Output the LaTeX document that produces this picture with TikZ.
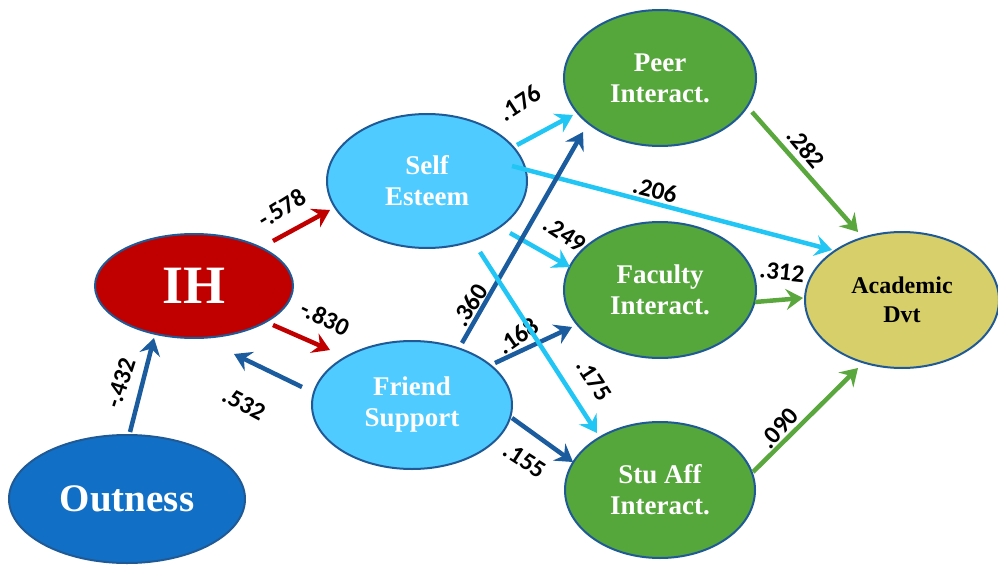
\documentclass[tikz,border=0pt]{standalone}
\usepackage{fontspec}
\newfontfamily\lblfont{Carlito}[UprightFont={* Bold}, BoldFont={* Bold}, ItalicFont={* Bold}]
\newfontfamily\nodefont{Liberation Serif}
\usetikzlibrary{shapes.geometric,arrows.meta,calc}
\definecolor{outl}{HTML}{1F5A96}
\definecolor{ihred}{HTML}{C00000}
\definecolor{dblue}{HTML}{1B5C9E}
\definecolor{lblue}{HTML}{22C6F4}
\definecolor{garr}{HTML}{5AA83D}
\definecolor{outfill}{HTML}{1170C6}
\definecolor{sefill}{HTML}{4FCBFF}
\definecolor{gfill}{HTML}{55A63B}
\definecolor{adfill}{HTML}{D7CF69}
\begin{document}
\begin{tikzpicture}[x=1pt,y=-1pt,
 ell/.style={ellipse, draw=outl, line width=2pt, inner sep=0pt, align=center, text=white, font=\nodefont\bfseries\fontsize{27}{31}\selectfont},
 arr/.style={line width=4.5pt, -{Stealth[length=17pt,width=21pt,inset=6pt]}},
 lbl/.style={font=\lblfont\fontsize{25}{25}\selectfont, inner sep=0pt}
]
\useasboundingbox (0,0) rectangle (998,567);
% nodes
\node[ell, fill=outfill, minimum width=236pt, minimum height=128pt, font=\nodefont\bfseries\fontsize{39}{44}\selectfont] (out) at (127,499) {Outness};
\node[ell, fill=ihred, minimum width=198pt, minimum height=104pt, font=\nodefont\bfseries\fontsize{54}{56}\selectfont] (ih) at (194,286) {IH};
\node[ell, fill=sefill, minimum width=200pt, minimum height=134pt] (se) at (427,181) {Self\\Esteem};
\node[ell, fill=sefill, minimum width=200pt, minimum height=128pt] (fs) at (412,405) {Friend\\Support};
\node[ell, fill=gfill, minimum width=192pt, minimum height=136pt] (pi) at (660,78) {Peer\\Interact.};
\node[ell, fill=gfill, minimum width=192pt, minimum height=136pt] (fi) at (660,290) {Faculty\\Interact.};
\node[ell, fill=gfill, minimum width=190pt, minimum height=136pt] (sa) at (660,490) {Stu Aff\\Interact.};
\node[ell, fill=adfill, minimum width=194pt, minimum height=136pt, text=black, font=\nodefont\bfseries\fontsize{24}{29}\selectfont] (ad) at (902,300) {Academic\\Dvt};
% arrows
\draw[arr, dblue] ($(out)+(3,-67)$) -- ($(ih)+(-40,52)$);
\draw[arr, ihred] ($(ih)+(79,-45)$) -- ($(se)+(-97,29)$);
\draw[arr, ihred] ($(ih)+(79,39)$) -- ($(fs)+(-82,-55)$);
\draw[arr, dblue] ($(fs)+(-110,-18)$) -- ($(ih)+(40,68)$);
\draw[arr, lblue] ($(se)+(90,-36)$) -- ($(pi)+(-87,37)$);
\draw[arr, lblue] ($(se)+(85,-15)$) -- ($(ad)+(-70,-50)$);
\draw[arr, lblue] ($(se)+(83,52)$) -- ($(fi)+(-90,-23)$);
\draw[arr, dblue] ($(fs)+(50,-62)$) -- ($(pi)+(-77,54)$);
\draw[arr, dblue] ($(fs)+(83,-42)$) -- ($(fi)+(-88,37)$);
\draw[arr, dblue] ($(fs)+(100,13)$) -- ($(sa)+(-87,-28)$);
\draw[arr, garr] ($(pi)+(92,34)$) -- ($(ad)+(-44,-68)$);
\draw[arr, garr] ($(fi)+(95,12)$) -- ($(ad)+(-99,-2)$);
\draw[arr, garr] ($(sa)+(93,-18)$) -- ($(ad)+(-44,68)$);
% labels
\node[lbl, rotate=72] (l1) at (121,383) {-.432};
\node[lbl, rotate=32] (l2) at (282,208) {-.578};
\node[lbl, rotate=-26] (l3) at (325,318) {-.830};
\node[lbl, rotate=-28] (l4) at (244,404) {.532};
\node[lbl, rotate=33] (l5) at (520,103) {.176};
\node[lbl, rotate=-14] (l6) at (655,190) {.206};
\node[lbl, rotate=-33] (l7) at (565,234) {.249};
\node[lbl, rotate=58] (l8) at (470,305) {.360};
\node[lbl, rotate=35] (l9) at (518,336) {.168};
\node[lbl, rotate=-57] (l10) at (594,380) {.175};
\node[lbl, rotate=-33] (l11) at (525,460) {.155};
\node[lbl, rotate=-50] (l12) at (806,148) {.282};
\node[lbl, rotate=-6] (l13) at (782,272) {.312};
\node[lbl, rotate=48] (l14) at (779,428) {.090};
\draw[arr, lblue] ($(se)+(53,71)$) -- ($(sa)+(-63,-57)$);
\end{tikzpicture}
\end{document}
